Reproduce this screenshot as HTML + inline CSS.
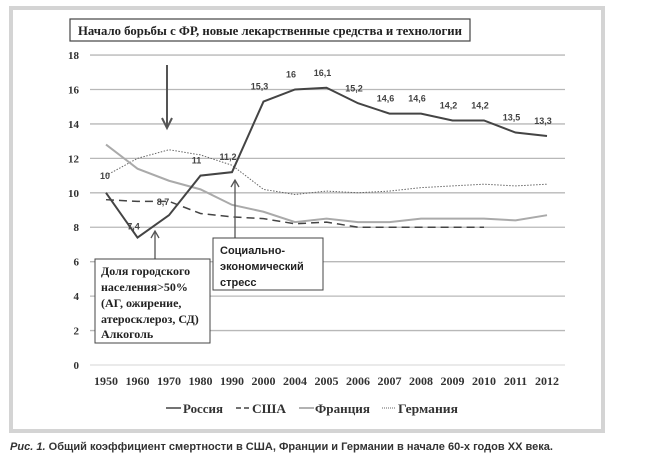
<!DOCTYPE html>
<html><head><meta charset="utf-8"><style>
body{margin:0;background:#fff;width:671px;height:455px;overflow:hidden;font-family:"Liberation Serif",serif}
svg text{font-family:"Liberation Serif",serif}
</style></head><body>
<svg width="671" height="455">
<rect x="11" y="8" width="592" height="423" fill="none" stroke="#d4d4d4" stroke-width="4"/>
<g id="grid"></g><g id="series"></g><g id="labels"></g>
<rect x="70" y="19" width="400" height="22" fill="#fff" stroke="#444" stroke-width="1.2"/>
<text x="78" y="35" font-size="13" font-weight="bold" fill="#222" textLength="384" lengthAdjust="spacingAndGlyphs">Начало борьбы с ФР, новые лекарственные средства и технологии</text>
<g stroke="#555" stroke-width="2" fill="none"><line x1="167" y1="65" x2="167" y2="128"/><path d="M162,118 L167,128 L172,118"/></g>
<g stroke="#555" stroke-width="1.3" fill="none"><line x1="155" y1="259" x2="155" y2="231"/><path d="M151,238 L155,231 L159,238"/></g>
<g stroke="#555" stroke-width="1.3" fill="none"><line x1="235" y1="238" x2="235" y2="180"/><path d="M231,187 L235,180 L239,187"/></g>
<g>
<rect x="95" y="259" width="115" height="84" fill="#fff" stroke="#444" stroke-width="1"/>
<text font-size="12" font-weight="bold" fill="#222"><tspan x="101" y="275">Доля городского</tspan><tspan x="101" y="291">населения&gt;50%</tspan><tspan x="101" y="307">(АГ, ожирение,</tspan><tspan x="101" y="323">атеросклероз, СД)</tspan><tspan x="101" y="338">Алкоголь</tspan></text></g>
<g>
<rect x="213" y="238" width="110" height="52" fill="#fff" stroke="#444" stroke-width="1"/>
<text font-size="11" font-weight="bold" fill="#222" style="font-family:'Liberation Sans',sans-serif"><tspan x="220" y="254">Социально-</tspan><tspan x="220" y="270">экономический</tspan><tspan x="220" y="286">стресс</tspan></text></g>
<g font-size="13" font-weight="bold" fill="#333">
<line x1="166" y1="408" x2="181" y2="408" stroke="#444" stroke-width="1.5"/><text x="183" y="413" textLength="40" lengthAdjust="spacingAndGlyphs">Россия</text>
<line x1="236" y1="408" x2="251" y2="408" stroke="#444" stroke-width="1.5" stroke-dasharray="5,3"/><text x="252" y="413" textLength="34" lengthAdjust="spacingAndGlyphs">США</text>
<line x1="299" y1="408" x2="314" y2="408" stroke="#999" stroke-width="1.5"/><text x="315" y="413" textLength="55" lengthAdjust="spacingAndGlyphs">Франция</text>
<line x1="382" y1="408" x2="396" y2="408" stroke="#666" stroke-width="1" stroke-dasharray="1,1"/><text x="398" y="413" textLength="60" lengthAdjust="spacingAndGlyphs">Германия</text></g>
<text x="10" y="450" font-size="11" fill="#333" textLength="543" lengthAdjust="spacingAndGlyphs" style="font-family:'Liberation Sans',sans-serif;font-weight:bold"><tspan font-style="italic">Рис. 1.</tspan> Общий коэффициент смертности в США, Франции и Германии в начале 60-х годов XX века.</text>
</svg>
<script>
const categories=["1950","1960","1970","1980","1990","2000","2004","2005","2006","2007","2008","2009","2010","2011","2012"];
const russia=[10,7.4,8.7,11,11.2,15.3,16,16.1,15.2,14.6,14.6,14.2,14.2,13.5,13.3];
const usa=[9.6,9.5,9.5,8.8,8.6,8.5,8.2,8.3,8.0,8.0,8.0,8.0,8.0,null,null];
const france=[12.8,11.4,10.7,10.2,9.3,8.9,8.3,8.5,8.3,8.3,8.5,8.5,8.5,8.4,8.7];
const germany=[11.0,12.0,12.5,12.2,11.6,10.2,9.9,10.1,10.0,10.1,10.3,10.4,10.5,10.4,10.5];
const russiaLabels=["10","7,4","8,7","11","11,2","15,3","16","16,1","15,2","14,6","14,6","14,2","14,2","13,5","13,3"];
const yTicks=[0,2,4,6,8,10,12,14,16,18];
const NS="http://www.w3.org/2000/svg";
const x=i=>106+i*31.5;
const y=v=>365-v*17.22;
const grid=document.getElementById('grid'),ser=document.getElementById('series'),lab=document.getElementById('labels');
function mk(tag,attrs,parent,txt){const e=document.createElementNS(NS,tag);for(const k in attrs)e.setAttribute(k,attrs[k]);if(txt!=null)e.textContent=txt;parent.appendChild(e);return e;}
yTicks.forEach(t=>{
 const l=mk('line',{x1:90,x2:565,y1:y(t),y2:y(t),stroke:t===0?'#ddd':'#b8b8b8','stroke-width':1.3},grid);
 
 
 const tx=mk('text',{x:79,y:y(t)+4,'font-size':11,'font-weight':'bold','text-anchor':'end',fill:'#333'},grid,t);
 
 
});
categories.forEach((c,i)=>{
 const tx=mk('text',{x:x(i),y:385,'font-size':12,'font-weight':'bold','text-anchor':'middle',fill:'#333'},grid,c);
 
 
});
function line(vals,style,name){
 let d='';vals.forEach((v,i)=>{if(v==null)return;d+=(d?'L':'M')+x(i)+','+y(v);});
 const p=mk('path',Object.assign({d:d,fill:'none'},style),ser);
 
 
}
line(germany,{stroke:'#666','stroke-width':1,'stroke-dasharray':'1.5,1.5'},'germany-line');
line(france,{stroke:'#aaa','stroke-width':2},'france-line');
line(usa,{stroke:'#444','stroke-width':1.5,'stroke-dasharray':'8,5'},'usa-line');
line(russia,{stroke:'#444','stroke-width':2},'russia-line');
russia.forEach((v,i)=>{
 let dy=-12,dx=-4;if(i===0){dy=-14;dx=-1;}if(i===1){dy=-8;dx=-4}if(i===2){dy=-10;dx=-6}
 const tx=mk('text',{x:x(i)+dx,y:y(v)+dy,'font-size':9,'font-weight':'bold','text-anchor':'middle',fill:'#444',style:"font-family:'Liberation Sans',sans-serif"},lab,russiaLabels[i]);
 
 
});
</script>
</body></html>
